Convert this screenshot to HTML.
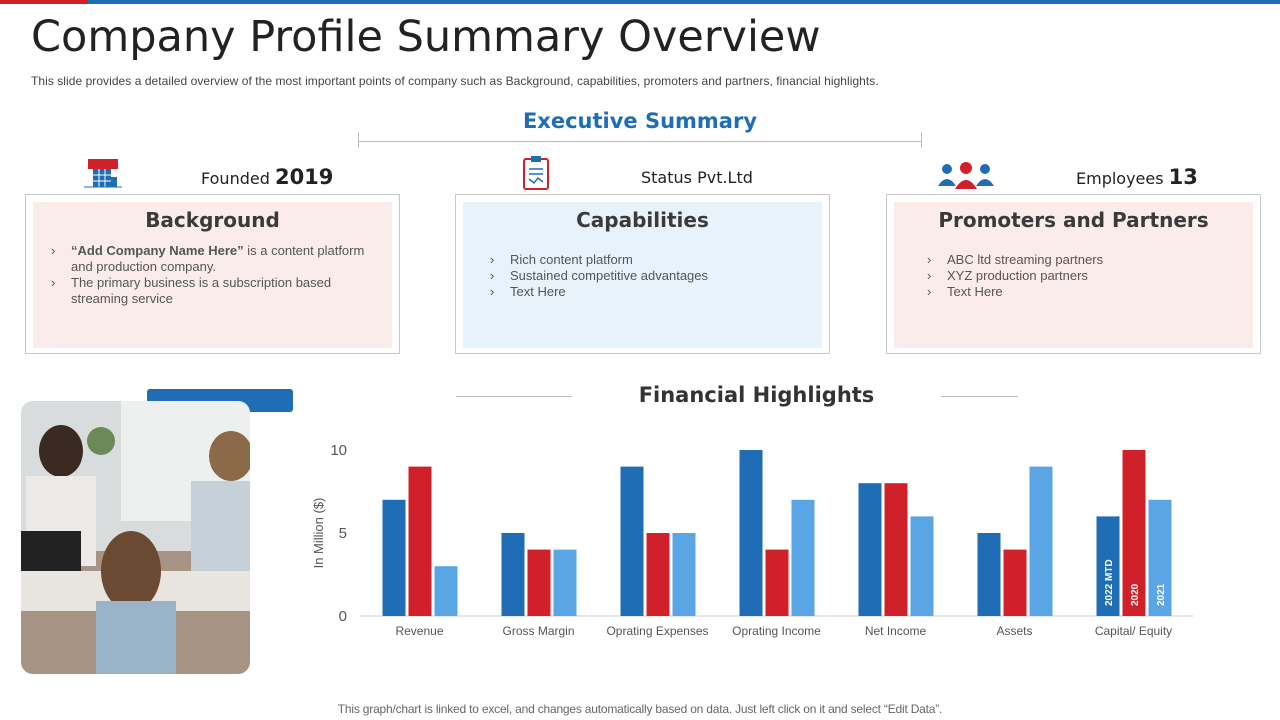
<!DOCTYPE html>
<html><head><meta charset="utf-8"><style>
body{margin:0;width:1280px;height:720px;position:relative;background:#fff;font-family:"Liberation Sans",sans-serif;overflow:hidden}
.abs{position:absolute}
.box{position:absolute;border:1px solid #c8c8c8;top:194px;width:373px;height:158px}
.inner{position:absolute;left:7px;top:7px;right:7px;bottom:5px}
.inner h3{margin:0;text-align:center;font-family:"DejaVu Sans",sans-serif;font-size:20px;font-weight:bold;color:#3a3a3a;padding-top:6px}
.inner ul{list-style:none;margin:0;padding:0 22px 0 0;font-size:13px;color:#555;line-height:16px}
.inner li{position:relative;padding-left:38px}
.inner li:before{content:"›";position:absolute;left:18px}
.stat{position:absolute;top:165px;font-family:"DejaVu Sans",sans-serif;font-size:16px;color:#222}
.stat b{font-size:21px}
</style></head><body>
<div class="abs" style="left:0;top:0;width:88px;height:4px;background:#d0202a"></div>
<div class="abs" style="left:88px;top:0;width:1192px;height:4px;background:#1f6db5"></div>
<div class="abs" style="left:31px;top:12px;font-family:'DejaVu Sans',sans-serif;font-size:43px;color:#222">Company Profile Summary Overview</div>
<div class="abs" style="left:31px;top:74px;font-size:12px;letter-spacing:0.05px;color:#444">This slide provides a detailed overview of the most important points of company such as Background, capabilities, promoters and partners, financial highlights.</div>

<div class="abs" style="left:358px;top:141px;width:564px;border-top:1px solid #bbb"></div>
<div class="abs" style="left:358px;top:132px;height:16px;border-left:1px solid #bbb"></div>
<div class="abs" style="left:921px;top:132px;height:16px;border-left:1px solid #bbb"></div>
<div class="abs" style="left:440px;top:108px;width:400px;text-align:center;font-family:'DejaVu Sans',sans-serif;font-weight:bold;font-size:21px;color:#1f6db5;line-height:26px"><span style="background:#fff;padding:0 8px">Executive Summary</span></div>

<svg class="abs" style="left:84px;top:157px" width="38" height="32"><rect x="4" y="2" width="30" height="10" fill="#d0202a"/><rect x="9" y="12" width="18" height="18" fill="#1f6db5"/><path d="M9 18h18M9 24h18M15 12v18M21 12v18" stroke="#fff" stroke-width="1"/><rect x="27" y="20" width="6" height="10" fill="#1f6db5"/><line x1="0" y1="30" x2="38" y2="30" stroke="#1f6db5"/></svg>
<div class="stat" style="left:201px">Founded <b>2019</b></div>
<svg class="abs" style="left:521px;top:155px" width="30" height="36"><rect x="3" y="4" width="24" height="30" rx="2" fill="none" stroke="#d0202a" stroke-width="2"/><rect x="10" y="1" width="10" height="6" fill="#1f6db5"/><path d="M8 14h14M8 19h14M8 24l5 4 4-5 5 4" stroke="#1f6db5" stroke-width="1.5" fill="none"/></svg>
<div class="stat" style="left:641px;top:168px">Status Pvt.Ltd</div>
<svg class="abs" style="left:937px;top:160px" width="58" height="30"><circle cx="10" cy="9" r="5" fill="#1f6db5"/><path d="M1 26q9-14 18 0z" fill="#1f6db5"/><circle cx="48" cy="9" r="5" fill="#1f6db5"/><path d="M39 26q9-14 18 0z" fill="#1f6db5"/><circle cx="29" cy="8" r="6" fill="#d0202a"/><path d="M18 29q11-18 22 0z" fill="#d0202a"/></svg>
<div class="stat" style="left:1076px">Employees <b>13</b></div>

<div class="box" style="left:25px"><div class="inner" style="background:#f9eceb"><h3>Background</h3><ul style="margin-top:11px"><li><b>“Add Company Name Here”</b> is a content platform and production company.</li><li>The primary business is a subscription based streaming service</li></ul></div></div>
<div class="box" style="left:455px"><div class="inner" style="background:#e8f2fb"><h3>Capabilities</h3><ul style="margin-top:20px;padding-left:9px"><li>Rich content platform</li><li>Sustained competitive advantages</li><li>Text Here</li></ul></div></div>
<div class="box" style="left:886px"><div class="inner" style="background:#f9eceb"><h3>Promoters and Partners</h3><ul style="margin-top:20px;padding-left:15px"><li>ABC ltd streaming partners</li><li>XYZ production partners</li><li>Text Here</li></ul></div></div>

<div class="abs" style="left:147px;top:389px;width:146px;height:23px;background:#1f6db5;border-radius:3px"></div>
<svg class="abs" style="left:21px;top:401px" width="229" height="273"><defs><clipPath id="c"><rect width="229" height="273" rx="12"/></clipPath></defs><g clip-path="url(#c)"><rect width="229" height="273" fill="#d9dcdd"/><rect x="100" y="0" width="129" height="120" fill="#eef0f0"/><rect x="0" y="150" width="229" height="123" fill="#a89484"/><rect x="0" y="170" width="229" height="40" fill="#e8e4df"/><ellipse cx="40" cy="50" rx="22" ry="26" fill="#3a2a22"/><rect x="5" y="75" width="70" height="90" fill="#eceae6"/><ellipse cx="210" cy="55" rx="22" ry="25" fill="#8b6a4a"/><rect x="170" y="80" width="59" height="90" fill="#c6d0d8"/><ellipse cx="110" cy="170" rx="30" ry="40" fill="#6b4a33"/><rect x="75" y="200" width="80" height="73" fill="#9bb3c8"/><rect x="0" y="130" width="60" height="40" fill="#222"/><circle cx="80" cy="40" r="14" fill="#6a8a5a"/></g></svg>

<div class="abs" style="left:456px;top:396px;width:116px;border-top:1px solid #bbb"></div>
<div class="abs" style="left:941px;top:396px;width:77px;border-top:1px solid #bbb"></div>
<div class="abs" style="left:572px;top:383px;width:369px;text-align:center;font-family:'DejaVu Sans',sans-serif;font-weight:bold;font-size:21px;color:#333">Financial Highlights</div>

<svg class="abs" id="chart" style="left:0;top:0" width="1280" height="720"></svg>
<div class="abs" style="left:0;width:1280px;top:702px;text-align:center;font-size:12px;letter-spacing:-0.2px;color:#666">This graph/chart is linked to excel, and changes automatically based on data. Just left click on it and select “Edit Data”.</div>

<script>
const categories=["Revenue","Gross Margin","Oprating Expenses","Oprating Income","Net Income","Assets","Capital/ Equity"];
const series2022=[7,5,9,10,8,5,6];
const series2020=[9,4,5,4,8,4,10];
const series2021=[3,4,5,7,6,9,7];
const seriesNames=["2022 MTD","2020","2021"];
const yTicks=[0,5,10];
const colors=["#1f6db5","#d0202a","#5aa6e4"];
const NS="http://www.w3.org/2000/svg";
const svg=document.getElementById('chart');
const x0=360,x1=1193,y0=616,yMax=10,yTop=450;
const band=(x1-x0)/categories.length;
const y=v=>y0-(v/yMax)*(y0-yTop);
const cx=i=>x0+band*(i+0.5);
function mk(t,a){const e=document.createElementNS(NS,t);for(const k in a)e.setAttribute(k,a[k]);svg.appendChild(e);return e;}
const ax=mk('line',{x1:x0,x2:x1,y1:y0,y2:y0,stroke:'#ccc'});


yTicks.forEach(t=>{const e=mk('text',{x:347,y:y(t)+5,'text-anchor':'end','font-size':15,fill:'#555','font-family':'Liberation Sans'});e.textContent=t;

});
const yt=mk('text',{x:323,y:533,'text-anchor':'middle','font-size':13,fill:'#555','font-family':'Liberation Sans',transform:'rotate(-90 323 533)'});yt.textContent='In Million ($)';


const all=[series2022,series2020,series2021];
const bw=23,gap=3;
categories.forEach((c,i)=>{
 all.forEach((s,j)=>{
  const bx=cx(i)-37+j*(bw+gap);
  const r=mk('rect',{x:bx,y:y(s[i]),width:bw,height:y0-y(s[i]),fill:colors[j]});
  
  
  if(i===categories.length-1){const tx=bx+bw/2+4,ty=y0-10;const t=mk('text',{x:tx,y:ty,'font-size':10,'font-weight':'bold',fill:'#fff','font-family':'Liberation Sans',transform:`rotate(-90 ${tx} ${ty})`});t.textContent=seriesNames[j];
   
   }
 });
 const l=mk('text',{x:cx(i),y:635,'text-anchor':'middle','font-size':12,fill:'#555','font-family':'Liberation Sans'});l.textContent=c;
 
 
});
</script>
</body></html>
